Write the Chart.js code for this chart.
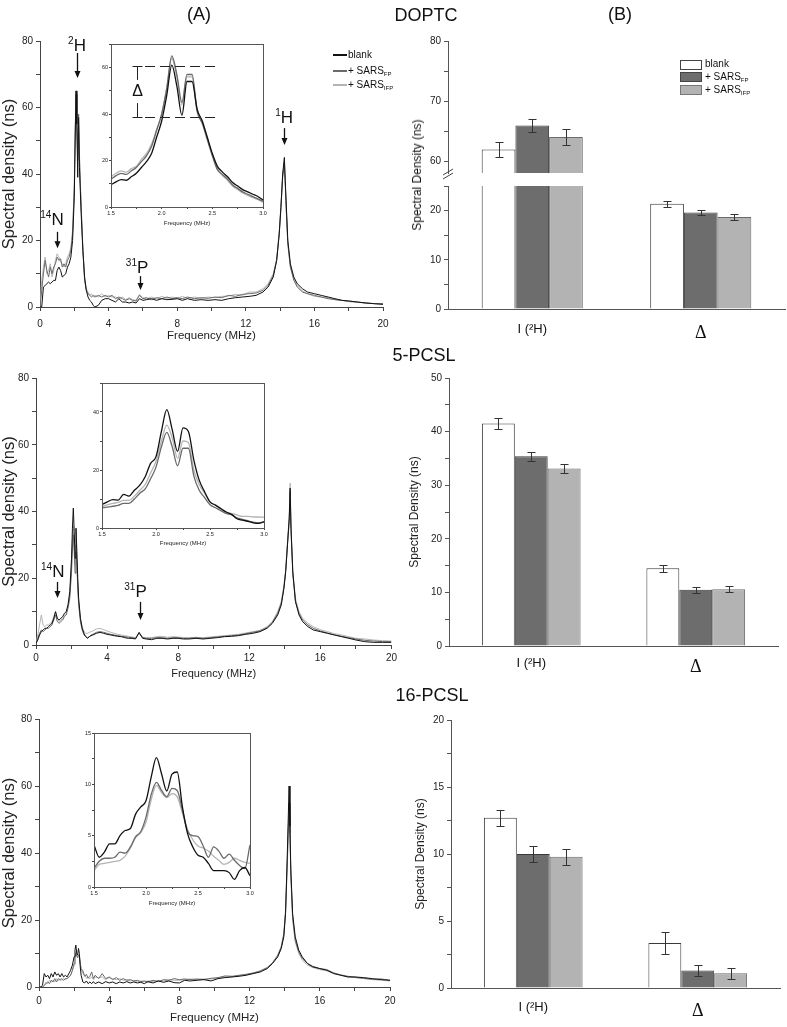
<!DOCTYPE html>
<html><head><meta charset="utf-8">
<script src="https://cdn.jsdelivr.net/npm/chart.js@4.4.1/dist/chart.umd.min.js"></script>
<style>
html,body{margin:0;padding:0;background:#fff}
body{position:relative;width:787px;height:1027px;overflow:hidden;font-family:"Liberation Sans",Arial,Helvetica,sans-serif;color:#111}
canvas{position:absolute;display:block}
.c{position:absolute;transform:translate(-50%,-50%);white-space:nowrap;line-height:1}
.l{position:absolute;white-space:nowrap;line-height:1;font-size:10px;transform:translateY(-50%)}
.l sub{font-size:6px;vertical-align:-2px;line-height:0}
.ln{position:absolute;height:2px;width:14px}
.bx{position:absolute;width:20px;height:8px;border:1px solid #444}
.vt{position:absolute;transform:translate(-50%,-50%) rotate(-90deg);white-space:nowrap;line-height:1}
</style></head><body>
<canvas id="cTL" width="400" height="346" style="left:0px;top:0px"></canvas>
<canvas id="cTLi" width="175" height="190" style="left:95px;top:40px"></canvas>
<canvas id="cML" width="400" height="339" style="left:0px;top:345px"></canvas>
<canvas id="cMLi" width="185" height="172" style="left:85px;top:378px"></canvas>
<canvas id="cBL" width="400" height="342" style="left:0px;top:685px"></canvas>
<canvas id="cBLi" width="178" height="182" style="left:78px;top:728px"></canvas>
<canvas id="cTRl" width="387" height="168" style="left:400px;top:177px"></canvas>
<canvas id="cTRu" width="387" height="317" style="left:400px;top:30px"></canvas>
<canvas id="cMR" width="387" height="340" style="left:400px;top:345px"></canvas>
<canvas id="cBR" width="387" height="342" style="left:400px;top:685px"></canvas>

<div class="c" style="left:199px;top:14px;font-size:18px">(A)</div>
<div class="c" style="left:426px;top:15px;font-size:18px">DOPTC</div>
<div class="c" style="left:620px;top:14px;font-size:18px">(B)</div>
<div class="c" style="left:424px;top:355px;font-size:18px">5-PCSL</div>
<div class="c" style="left:432px;top:695px;font-size:18px">16-PCSL</div>
<div class="vt" style="left:417px;top:175px;font-size:12px">Spectral Density (ns)</div>

<div class="ln" style="left:333px;top:54px;background:#111"></div><div class="l" style="left:348px;top:55px">blank</div>
<div class="ln" style="left:333px;top:70px;background:#6a6a6a"></div><div class="l" style="left:348px;top:71px">+ SARS<sub>FP</sub></div>
<div class="ln" style="left:333px;top:84px;background:#b4b4b4"></div><div class="l" style="left:348px;top:85px">+ SARS<sub>IFP</sub></div>

<div class="bx" style="left:680px;top:60px;background:#fff"></div><div class="l" style="left:705px;top:64px">blank</div>
<div class="bx" style="left:680px;top:72px;background:#6d6d6d"></div><div class="l" style="left:705px;top:77px">+ SARS<sub>FP</sub></div>
<div class="bx" style="left:680px;top:85px;background:#b3b3b3;border-color:#777"></div><div class="l" style="left:705px;top:90px">+ SARS<sub>IFP</sub></div>

<script>
// ---------------- DATA ----------------
const FREQ = [0,0.1,0.2,0.3,0.4,0.5,0.6,0.7,0.8,0.9,1.0,1.1,1.2,1.3,1.4,1.5,1.6,1.7,1.8,1.9,
  2.0,2.05,2.1,2.15,2.2,2.25,2.3,2.35,2.4,
  2.5,2.6,2.7,2.8,2.9,3.0,3.1,3.2,
  3.4,3.6,3.8,4.0,4.2,4.4,4.6,4.8,5.0,5.2,5.4,5.6,5.8,6.0,6.2,
  6.5,6.8,7.1,7.4,7.7,8.0,8.3,8.6,
  9.0,9.4,9.8,10.2,10.6,11.0,11.4,11.8,12.2,12.6,13.0,
  13.3,13.6,13.8,13.95,14.05,14.15,14.25,14.3,14.35,14.45,14.6,14.8,15.0,
  15.3,15.6,16.0,16.4,16.8,17.2,17.6,18.0,18.5,19.0,19.5,20.0];

const DOPTC_BLANK = [0,0,6,6.5,7,7.5,7,7.5,8,8,11,12,11,9,9.5,10,12,13,15,20,
  33,50,65,55,39,57,42,35,28,
  17,9,5,3,2,1.5,0.5,0,
  0.5,2,2.5,2.5,2,1.5,2.5,1.5,1.5,1.2,1.5,1.2,2.5,2,2.2,
  2.5,2,2.5,2.2,2.3,2.5,2,2.5,
  2,2.2,2,2.2,2,2.5,2.8,3,3.2,3.5,4.5,
  6,9,14,22,30,40,45,38,32,20,13,9,7,
  5.5,4.5,4,3.5,3,2.5,2,1.8,1.5,1.2,1,0.8];
const DOPTC_FP = [0,5,10,14,11,9,12,10,12,13,15,14,14.5,12,13,12,14,15,17,22,
  36,52,64,57,44,58,45,37,30,
  17,8,5,4,3.5,3,3.5,3,
  3.5,3,3.5,3,3.5,2.5,3,2.5,2,2.5,2,1.8,3.5,2.5,2.8,
  2.2,2.8,2.5,3,2.5,2.8,2.5,3,
  2.5,2.8,2.6,3,2.8,3.5,3.2,3.8,4,4.2,5,
  6.5,9.5,14,22,30,39,43,37,30,19,12,8,6,
  4.5,4,3.5,3,2.5,2.2,2,1.8,1.5,1.2,1,1];
const DOPTC_IFP = [0,8,12,15,10,11,13,9,11,14,16,15,13.5,13,12,13,15,16,18,23,
  37,53,63,56,45,58,46,38,31,
  18,9,5.5,4.5,3.5,4,3,3.5,
  3,4,3,3.5,3,3,2.5,3,2.2,2.8,2.2,2,3.8,2.8,2.5,
  3,2.5,3.2,2.6,3,2.6,3.2,2.6,
  3,2.6,3,2.8,3.2,3.3,3.8,3.5,4.5,4.5,5.5,
  7,10,14.5,23,31,40,44,38,31,19,12,8.5,6.5,
  4.8,4,3.2,3,2.8,2.2,2,1.6,1.4,1.2,1,0.8];

const PCSL5_BLANK = [0.5,1.5,3,4,4.5,5,5,5.5,6,6.5,8,10,8,7.5,8,8.5,9.5,10,12,16,
  26,35,41,34,26,35,28,20,14,
  8,5,3.5,2.5,2,2.5,2.8,3,
  3.5,3.8,3.5,3.2,3,2.8,2.6,2.5,2.2,2,2,1.8,3.8,2,1.8,
  1.6,2,2,1.8,2,2,1.8,1.8,
  2,1.8,2,2.2,2.5,2.6,2.8,3.2,3.5,4,5,
  6.5,9,12,17,22,30,38,47,35,22,13,9,7,
  5.5,4.5,4,3.5,3,2.5,2,1.5,1,0.8,0.8,0.8];
const PCSL5_FP = [0.5,2,3.5,4.5,4,4.5,5,5,5.5,6,7.5,9,7,6.5,7,7.5,8.5,9,11,14,
  22,29,33,28,21.5,28,24,17,12,
  7,4.5,3,2.5,2.2,2.5,3,3.2,
  3.8,4,3.8,3.5,3.2,3,2.8,2.6,2.5,2.3,2.2,2,3.5,2.2,2,
  2,2.2,2.2,2,2.2,2.2,2,2,
  2.2,2,2.2,2.4,2.6,2.8,3,3.4,3.8,4.2,5.2,
  6.8,9.5,12.5,17,22,30,37,46,34,21,13,9.5,7.5,
  6,5,4.2,3.6,3,2.6,2.2,1.8,1.4,1.2,1,1];
const PCSL5_IFP = [0.5,3,6,9,6,5.5,6,6,6.5,7,8.5,10,8,7,7.5,8,9,9.5,11.5,15,
  24,31,35.5,30,24,30,25,18,13,
  8,5.5,4,3.5,3.5,3.8,4,4.2,
  4.8,5,4.6,4.2,3.8,3.5,3.2,3,2.8,2.6,2.4,2.2,3.6,2.4,2.2,
  2.2,2.5,2.6,2.3,2.5,2.4,2.2,2.2,
  2.3,2.2,2.4,2.6,2.8,3,3.2,3.6,4,4.4,5.5,
  7,10,13,18,23,31,39,48.5,36,22,14,10,8,
  6.5,5.5,4.6,4,3.4,3,2.5,2,1.8,1.5,1.3,1.2];

const PCSL16_BLANK = [0,0,0.5,4,3,3.5,2.5,4,3,4.5,3.5,4,3,4,3,3.5,3,4,5,6.5,
  9,11,12.5,10,9.5,11.5,10,6,3.5,
  1.5,1.2,1.8,1,1.5,1,1.6,1,
  1.5,1,1.6,1.2,1.5,1,1.5,1.2,1.6,1.2,1.5,1.2,1.4,1,1.6,
  1.2,1.8,1.4,1.8,1.3,1.2,2,1.8,
  2,2.2,1.8,2.5,2.8,3,3.2,3.5,4,4.5,5.5,
  7,9,11.5,15,22,40,60,48,35,22,15,11,9,
  7,6,5.5,5,4,3.5,3,3,2.8,2.5,2.2,2];
const PCSL16_FP = [0,0,0,0.5,1,1.5,1,2,1.5,2.5,1.5,2.5,2,2.5,2,2.5,2.5,3,3.5,5,
  7,9,10.2,9.3,8.8,9.6,9.3,7,5.5,
  4.8,3.2,3.8,2.6,3.2,4.5,2.5,3.5,
  2.5,4,2.5,3,2.2,2.8,2,2.5,2,2.2,1.8,2,1.6,1.8,1.5,
  2,1.6,2.2,2,2.5,2.2,2.4,2.2,
  2.4,2.2,2.6,2.8,3.3,3.2,3.5,3.8,4.2,4.8,5.8,
  7.2,9.5,12,16,23,38,55,46,34,21,14,10.5,8.5,
  7,6.2,5.5,5.2,4.2,3.6,3.2,2.9,2.6,2.3,2.4,2];
const PCSL16_IFP = [0,0,0,0.3,1.5,1,2,1.5,2,1.5,2.5,2,2.5,2,2.5,2.2,2.6,2.8,3.5,4.8,
  6.5,8.5,9.9,9.2,8.7,9.1,8.8,7,5.5,
  4,3.5,2.6,3,2.5,3,2.2,3,
  2.8,3,2.2,2.8,2.5,2.2,2.5,2,2.2,1.8,2,1.5,1.8,1.6,1.8,
  1.6,2,1.8,2.2,2,2,2.2,2.4,
  2.2,2.4,2.4,2.6,3,3,3.4,3.6,4,4.5,5.5,
  7,9,11.5,15.5,22,36,54,45,33,20,13.5,10,8,
  6.5,5.8,5.2,4.8,4,3.5,3,2.8,2.5,2.2,2,1.8];

// insets (1.5 - 3.0 MHz)
const INSET_FREQ = [1.5,1.55,1.6,1.65,1.7,1.75,1.8,1.85,1.9,1.95,2.0,2.05,2.1,2.15,2.2,2.25,2.3,2.35,2.4,2.45,2.5,2.55,2.6,2.65,2.7,2.75,2.8,2.85,2.9,2.95,3.0];
const DOPTC_IN_BLANK = [9.6,10.8,11.8,11.5,13,14.5,17,19.5,23,30,37,48,61,52,39.5,54,54,42,37,30,23,17.5,15,13,10.5,9,7.5,6.5,5.5,4.5,3];
const DOPTC_IN_FP    = [12,13.5,14.5,14,15.5,17,19.5,22,26,33,40,51,65,57,45,57,57,41,36,29,22,16,14,12,9.5,8,6.5,5.5,4.5,3.5,2.5];
const DOPTC_IN_IFP   = [13,14.5,15.5,15,16.5,17.5,20.5,23,27,33,40,51,64,56,44,56,56,42,37,30,22.5,16.5,13.5,11.5,9,7.5,6,5,4,3.2,2];
const PCSL5_IN_BLANK = [8.1,9,9.8,9.6,11.6,11,13,14.8,17.7,22.3,24.6,33.3,40.8,33.9,26.4,34.5,33.3,23.5,16.5,12.5,9,7.9,6.7,5.5,4.7,3.2,2.7,2.3,1.8,1.6,2.1];
const PCSL5_IN_FP    = [7,7.2,7.5,7.8,8.5,8.5,10,12,13.5,17,21,28,33,28,21.5,27.5,27.5,18,13,10.5,8,7,6,5,4.5,3.5,3,2.5,2,1.8,2.2];
const PCSL5_IN_IFP   = [7.5,8,8.5,8.8,9.5,9.5,11,13,15,19,23,30,35.5,31,24,30,29.5,20,15,12,9,8,6.5,5.5,5,4.5,4,4,3.8,3.8,3.7];
const PCSL16_IN_BLANK = [4.1,2.9,3.4,4.2,4.2,5.0,5.5,5.7,7.1,7.8,8.4,10.7,12.6,11,9.35,11,11.2,7.8,5.2,3.9,3.1,2.9,2.3,1.6,1.6,1.6,1.4,0.75,1.6,1.9,1.1];
const PCSL16_IN_FP    = [1.8,2.5,2.8,2.8,2.9,3.4,3.3,3.9,4.9,5.4,6.8,9,10.2,9.4,8.8,9.6,9.4,7.5,5.4,5,4.9,4,2.9,3.9,3.5,2.8,3.2,2.6,2.1,1.8,4.1];
const PCSL16_IN_IFP   = [1.6,2.2,2.3,2.4,2.5,2.6,3,3.8,4.8,5.3,6.3,8.5,9.9,9.2,8.7,9.1,8.8,7.2,5.6,4.6,4,3.8,3.5,3,2.6,2.2,2.4,2.8,2.6,2.4,2.3];

// peak labels: [superscript, letter, label freq, label value, arrow freq, arrow start, arrow end]
const DOPTC_PEAKS = [['2','H',2.16,78.8,2.16,76.4,68.9],['14','N',0.70,26.5,0.99,22.6,17.7],['31','P',5.66,12.0,5.83,9.3,5.1],['1','H',14.23,57.2,14.23,53.8,48.7]];
const PCSL5_PEAKS = [['14','N',0.94,22.2,1.17,18.9,14.1],['31','P',5.6,16.2,5.83,12.9,7.5]];
// Delta marker in DOPTC inset: upper level, lower level
const DELTA_LEVELS = [60.8, 38.9];

// bar data
const BAR_LABELS = ['I (\u00B2H)', '\u0394'];
const DOPTC_BAR_BLANK = [61.9, 21.4], DOPTC_BAR_FP = [65.9, 19.6], DOPTC_BAR_IFP = [64.0, 18.7];
const DOPTC_ERR_BLANK = [1.3, 0.6],   DOPTC_ERR_FP = [1.05, 0.55],  DOPTC_ERR_IFP = [1.3, 0.7];
const PCSL5_BAR_BLANK = [41.5, 14.5], PCSL5_BAR_FP = [35.4, 10.5], PCSL5_BAR_IFP = [33.1, 10.6];
const PCSL5_ERR_BLANK = [1.0, 0.7],   PCSL5_ERR_FP = [0.85, 0.6],  PCSL5_ERR_IFP = [0.8, 0.6];
const PCSL16_BAR_BLANK = [12.7, 3.35], PCSL16_BAR_FP = [10.0, 1.3], PCSL16_BAR_IFP = [9.8, 1.1];
const PCSL16_ERR_BLANK = [0.6, 0.8],   PCSL16_ERR_FP = [0.6, 0.4],  PCSL16_ERR_IFP = [0.6, 0.4];

// ---------------- STYLE / HELPERS ----------------
const FONT = '"Liberation Sans", Arial, sans-serif';
const C_BLANK = '#111111', C_FP = '#6a6a6a', C_IFP = '#b4b4b4';
const BAR_FILL = ['#ffffff', '#6d6d6d', '#b3b3b3'];
const BAR_EDGE = ['#3a3a3a', '#3a3a3a', '#6a6a6a'];
Chart.defaults.font.family = FONT;
Chart.defaults.color = '#222';
Chart.defaults.animation = false;
Chart.defaults.events = [];
Chart.defaults.plugins.legend.display = false;
Chart.defaults.plugins.tooltip.enabled = false;

[[DOPTC_BLANK,'a'],[DOPTC_FP,'b'],[DOPTC_IFP,'c'],[PCSL5_BLANK,'d'],[PCSL5_FP,'e'],[PCSL5_IFP,'f'],[PCSL16_BLANK,'g'],[PCSL16_FP,'h'],[PCSL16_IFP,'i']].forEach(([a,n])=>{ if(a.length!==FREQ.length) console.error('len',n,a.length); });

function isMajor(v, m){ const r = v / m; return Math.abs(r - Math.round(r)) < 1e-6; }

function peakPlugin(items){
  return { id:'peaks', afterDraw(chart){
    const {ctx, scales:{x, y}} = chart;
    ctx.save();
    ctx.fillStyle = '#111'; ctx.strokeStyle = '#111'; ctx.lineWidth = 1.3;
    ctx.textAlign = 'left'; ctx.textBaseline = 'alphabetic';
    for (const [sup, main, tx, ty, ax, ay1, ay2] of items){
      const px = x.getPixelForValue(tx), py = y.getPixelForValue(ty);
      ctx.font = '10px ' + FONT; const ws = ctx.measureText(sup).width;
      ctx.font = '17px ' + FONT; const wm = ctx.measureText(main).width;
      const x0 = px - (ws + wm) / 2, base = py + 6;
      ctx.fillText(main, x0 + ws, base);
      ctx.font = '10px ' + FONT; ctx.fillText(sup, x0, base - 7);
      const axp = Math.round(x.getPixelForValue(ax)) + 0.5;
      const y1 = y.getPixelForValue(ay1), y2 = y.getPixelForValue(ay2);
      ctx.beginPath(); ctx.moveTo(axp, y1); ctx.lineTo(axp, y2 - 5); ctx.stroke();
      ctx.beginPath(); ctx.moveTo(axp - 3, y2 - 7); ctx.lineTo(axp + 3, y2 - 7); ctx.lineTo(axp, y2); ctx.closePath(); ctx.fill();
    }
    ctx.restore();
  }};
}

const insetBox = { id:'insetBox',
  beforeDraw(chart){ const {ctx, chartArea:a} = chart; ctx.save(); ctx.fillStyle = '#fff'; ctx.fillRect(a.left, a.top, a.right - a.left, a.bottom - a.top); ctx.restore(); },
  afterDraw(chart){ const {ctx, chartArea:a} = chart; ctx.save(); ctx.strokeStyle = '#555'; ctx.lineWidth = 1;
    ctx.strokeRect(Math.round(a.left) + 0.5, Math.round(a.top) + 0.5, Math.round(a.right - a.left), Math.round(a.bottom - a.top)); ctx.restore(); }
};

function deltaPlugin(levels){
  return { id:'delta', afterDatasetsDraw(chart){
    const {ctx, scales:{x, y}} = chart;
    const [hi, lo] = levels;
    ctx.save(); ctx.strokeStyle = '#222'; ctx.lineWidth = 1;
    ctx.setLineDash([10, 5]);
    for (const v of [hi, lo]) {
      const py = Math.round(y.getPixelForValue(v)) + 0.5;
      ctx.beginPath(); ctx.moveTo(x.getPixelForValue(1.836), py); ctx.lineTo(x.getPixelForValue(2.55), py); ctx.stroke();
    }
    ctx.setLineDash([]);
    const mx = Math.round(x.getPixelForValue(1.754)) + 0.5;
    const yh = Math.round(y.getPixelForValue(hi)) + 0.5, yl = Math.round(y.getPixelForValue(lo)) + 0.5;
    ctx.beginPath();
    ctx.moveTo(mx - 5, yh); ctx.lineTo(mx + 5, yh); ctx.moveTo(mx - 5, yl); ctx.lineTo(mx + 5, yl);
    ctx.moveTo(mx, yh); ctx.lineTo(mx, y.getPixelForValue(54.7));
    ctx.moveTo(mx, y.getPixelForValue(44.7)); ctx.lineTo(mx, yl);
    ctx.stroke();
    ctx.fillStyle = '#111'; ctx.font = '16px ' + FONT; ctx.textAlign = 'center'; ctx.textBaseline = 'middle';
    ctx.fillText('\u0394', mx, y.getPixelForValue(49.5));
    ctx.restore();
  }};
}

function errPlugin(errs){
  return { id:'errbars', afterDatasetsDraw(chart){
    const {ctx, chartArea:a, scales:{y}} = chart;
    ctx.save();
    ctx.beginPath(); ctx.rect(a.left, a.top, a.right - a.left, a.bottom - a.top); ctx.clip();
    ctx.strokeStyle = '#333'; ctx.lineWidth = 1;
    chart.data.datasets.forEach((ds, i) => {
      chart.getDatasetMeta(i).data.forEach((bar, j) => {
        const v = ds.data[j], e = errs[i][j];
        const x = Math.round(bar.x) + 0.5;
        const y1 = Math.round(y.getPixelForValue(v + e)) + 0.5, y2 = Math.round(y.getPixelForValue(v - e)) + 0.5;
        ctx.beginPath(); ctx.moveTo(x, y1); ctx.lineTo(x, y2);
        ctx.moveTo(x - 4, y1); ctx.lineTo(x + 4, y1); ctx.moveTo(x - 4, y2); ctx.lineTo(x + 4, y2);
        ctx.stroke();
      });
    });
    ctx.restore();
  }};
}

const breakPlugin = { id:'axisBreak', afterDraw(chart){
  const {ctx, chartArea:a} = chart;
  ctx.save(); ctx.strokeStyle = '#444'; ctx.lineWidth = 1;
  const x = a.left, y = a.bottom + 2;
  ctx.beginPath(); ctx.moveTo(x - 5, y); ctx.lineTo(x + 5, y - 6); ctx.moveTo(x - 5, y + 4); ctx.lineTo(x + 5, y - 2); ctx.stroke();
  ctx.restore();
}};

function lineChart(id, xs, series, o){
  return new Chart(document.getElementById(id), {
    type: 'line',
    data: { datasets: series.map(s => ({
      data: xs.map((x, i) => ({x: x, y: s[0][i]})),
      borderColor: s[1], borderWidth: o.lw, pointRadius: 0, fill: false,
      tension: o.smooth ? 0.4 : 0, cubicInterpolationMode: o.smooth ? 'monotone' : 'default', clip: 0
    })) },
    options: {
      responsive: false, maintainAspectRatio: false, devicePixelRatio: 1,
      layout: { padding: o.pad },
      scales: {
        x: { type: 'linear', min: o.xr[0], max: o.xr[1],
          ticks: { stepSize: o.xr[2], autoSkip: false, maxRotation: 0, padding: o.xpad, font: { size: o.tf }, color: '#222',
                   callback: v => isMajor(v, o.xr[3]) ? o.xfmt(v) : '' },
          grid: { drawOnChartArea: false, drawTicks: true, tickLength: o.tl, tickColor: '#444', tickWidth: 1 },
          border: { display: true, color: '#444', width: 1 },
          title: { display: true, text: 'Frequency (MHz)', font: { size: o.xtf }, color: '#222', padding: { top: 0, bottom: o.xtp } },
          afterFit: s => { s.height = o.xh; } },
        y: { type: 'linear', min: o.yr[0], max: o.yr[1],
          ticks: { stepSize: o.yr[2], autoSkip: false, padding: o.ypad, font: { size: o.tf }, color: '#222',
                   callback: v => isMajor(v, o.yr[3]) ? String(v) : '' },
          grid: { drawOnChartArea: false, drawTicks: true, tickLength: o.tl, tickColor: '#444', tickWidth: 1 },
          border: { display: true, color: '#444', width: 1 },
          title: { display: !!o.ytitle, text: o.ytitle || '', font: { size: o.ytf || 10 }, color: '#222', padding: { top: 0, bottom: 0 } },
          afterFit: s => { s.width = o.yw; } }
      }
    },
    plugins: o.plugins || []
  });
}

function barChart(id, vals, errs, o){
  return new Chart(document.getElementById(id), {
    type: 'bar',
    data: { labels: BAR_LABELS, datasets: vals.map((d, i) => ({
      data: d, backgroundColor: BAR_FILL[i], borderColor: BAR_EDGE[i], borderWidth: 1, borderSkipped: 'start',
      categoryPercentage: 0.6, barPercentage: 1.0, clip: 0 })) },
    options: {
      responsive: false, maintainAspectRatio: false, devicePixelRatio: 1,
      layout: { padding: o.pad },
      scales: {
        x: { display: o.showX, grid: { display: false, drawTicks: false }, border: { display: true, color: '#555' },
          ticks: { padding: o.xpad, color: '#111',
                   font: c => c.index === 1 ? { family: '"Liberation Serif", "DejaVu Serif", serif', size: 18 } : { size: 13 } },
          afterFit: s => { s.height = o.xh; } },
        y: { min: o.yr[0], max: o.yr[1],
          ticks: { stepSize: o.yr[2], includeBounds: false, autoSkip: false, padding: 3, font: { size: 10 }, color: '#222',
                   callback: v => isMajor(v, o.yr[3]) ? String(v) : '' },
          grid: { drawOnChartArea: false, drawTicks: true, tickLength: 4, tickColor: '#555' },
          border: { display: true, color: '#555' },
          title: { display: !!o.title, text: o.title || '', font: { size: 12 }, color: '#222', padding: { top: o.ytp || 0, bottom: 0 } },
          afterFit: s => { s.width = o.yw; } }
      }
    },
    plugins: [errPlugin(errs)].concat(o.plugins || [])
  });
}

const MAIN = { lw: 1, tf: 10, tl: 4, ypad: 3, xr: [0, 20, 2, 4], yr: [0, 80, 10, 20], xfmt: v => String(v), ytitle: 'Spectral density (ns)', ytf: 16.5 };
const INSET = { lw: 1.3, smooth: true, tf: 5.5, tl: 2, ypad: 1, xpad: 1, xr: [1.5, 3.0, 0.25, 0.5], xfmt: v => v.toFixed(1), xtf: 6, xtp: 3.4 };

// ---------------- CHARTS ----------------
lineChart('cTL', FREQ, [[DOPTC_BLANK, C_BLANK], [DOPTC_FP, C_FP], [DOPTC_IFP, C_IFP]],
  Object.assign({}, MAIN, { pad: { top: 41, right: 17, left: 0, bottom: 0 }, yw: 40, xh: 39, xpad: 7, xtf: 11.5, xtp: 3, plugins: [peakPlugin(DOPTC_PEAKS)] }));
lineChart('cTLi', INSET_FREQ, [[DOPTC_IN_BLANK, C_BLANK], [DOPTC_IN_FP, C_FP], [DOPTC_IN_IFP, C_IFP]],
  Object.assign({}, INSET, { yr: [0, 70, 10, 20], pad: { top: 4, right: 7, left: 0, bottom: 0 }, yw: 16, xh: 23, plugins: [insetBox, deltaPlugin(DELTA_LEVELS)] }));

lineChart('cML', FREQ, [[PCSL5_BLANK, C_BLANK], [PCSL5_FP, C_FP], [PCSL5_IFP, C_IFP]],
  Object.assign({}, MAIN, { pad: { top: 33, right: 4, left: 0, bottom: 0 }, yw: 36, xh: 39, xpad: 3, xtf: 11, xtp: 3, plugins: [peakPlugin(PCSL5_PEAKS)] }));
lineChart('cMLi', INSET_FREQ, [[PCSL5_IN_BLANK, C_BLANK], [PCSL5_IN_FP, C_FP], [PCSL5_IN_IFP, C_IFP]],
  Object.assign({}, INSET, { yr: [0, 50, 10, 20], pad: { top: 5, right: 6, left: 0, bottom: 0 }, yw: 17, xh: 22, plugins: [insetBox] }));

lineChart('cBL', FREQ, [[PCSL16_BLANK, C_BLANK], [PCSL16_FP, C_FP], [PCSL16_IFP, C_IFP]],
  Object.assign({}, MAIN, { pad: { top: 34, right: 10, left: 0, bottom: 0 }, yw: 39, xh: 40, xpad: 4, xtf: 11.5, xtp: 2 }));
lineChart('cBLi', INSET_FREQ, [[PCSL16_IN_BLANK, C_BLANK], [PCSL16_IN_FP, C_FP], [PCSL16_IN_IFP, C_IFP]],
  Object.assign({}, INSET, { yr: [0, 15, 2.5, 5], pad: { top: 5, right: 6, left: 0, bottom: 0 }, yw: 16, xh: 23, plugins: [insetBox] }));

// DOPTC bars: broken y axis (lower 0-25, upper 58-80)
barChart('cTRl', [DOPTC_BAR_BLANK, DOPTC_BAR_FP, DOPTC_BAR_IFP], [DOPTC_ERR_BLANK, DOPTC_ERR_FP, DOPTC_ERR_IFP],
  { showX: true, xpad: 13, xh: 36, yr: [0, 25, 5, 10], yw: 48, pad: { top: 1, right: 2, left: 0, bottom: 0 } });
barChart('cTRu', [DOPTC_BAR_BLANK, DOPTC_BAR_FP, DOPTC_BAR_IFP], [DOPTC_ERR_BLANK, DOPTC_ERR_FP, DOPTC_ERR_IFP],
  { showX: false, xpad: 0, xh: 0, yr: [58, 80, 5, 10], yw: 48, pad: { top: 11, right: 2, left: 0, bottom: 174 }, plugins: [breakPlugin] });

barChart('cMR', [PCSL5_BAR_BLANK, PCSL5_BAR_FP, PCSL5_BAR_IFP], [PCSL5_ERR_BLANK, PCSL5_ERR_FP, PCSL5_ERR_IFP],
  { showX: true, xpad: 10, xh: 39, yr: [0, 50, 5, 10], yw: 49, title: 'Spectral Density (ns)', ytp: 7, pad: { top: 33, right: 9, left: 0, bottom: 0 } });
barChart('cBR', [PCSL16_BAR_BLANK, PCSL16_BAR_FP, PCSL16_BAR_IFP], [PCSL16_ERR_BLANK, PCSL16_ERR_FP, PCSL16_ERR_IFP],
  { showX: true, xpad: 12, xh: 39, yr: [0, 20, 2.5, 5], yw: 51, title: 'Spectral Density (ns)', ytp: 13, pad: { top: 35, right: 7, left: 0, bottom: 0 } });
</script>
</body></html>
